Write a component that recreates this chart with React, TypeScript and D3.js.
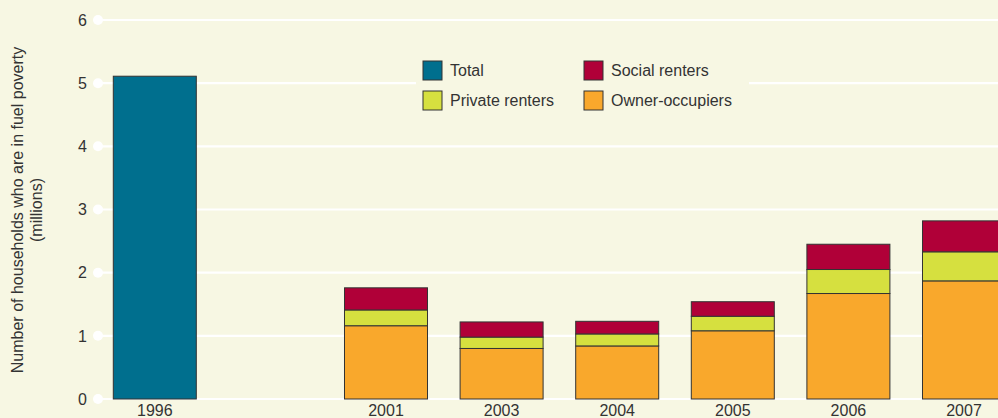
import React from "react";
import * as d3 from "d3";

const categories = ["1996", "", "2001", "2003", "2004", "2005", "2006", "2007"];
const totalValues = [5.11, null, null, null, null, null, null, null];
const ownerValues = [null, null, 1.16, 0.8, 0.84, 1.08, 1.67, 1.87];
const privateValues = [null, null, 0.25, 0.18, 0.19, 0.23, 0.38, 0.46];
const socialValues = [null, null, 0.35, 0.24, 0.2, 0.23, 0.4, 0.49];
const yTicks = [0, 1, 2, 3, 4, 5, 6];
const legendItems = [
  { label: "Total", color: "#006f8e" },
  { label: "Social renters", color: "#b00038" },
  { label: "Private renters", color: "#d6e03f" },
  { label: "Owner-occupiers", color: "#f9a82c" },
];

const W = 998;
const H = 418;
const BG = "#f7f7e3";
const TXT = "#333333";
const FONT = "Liberation Sans, Arial, Helvetica, sans-serif";
const FS = 16;

export default function App() {
  const keys = categories.map((c, i) => c || "gap" + i);
  const x = d3
    .scaleBand<string>()
    .domain(keys)
    .range([97, 97 + 8 * 115.6])
    .paddingInner(0.282)
    .paddingOuter(0.141);
  const y = d3.scaleLinear().domain([0, 6]).range([399, 20]);

  const stackColors = ["#f9a82c", "#d6e03f", "#b00038"];
  const series = [ownerValues, privateValues, socialValues];

  const bars: JSX.Element[] = [];
  keys.forEach((k, i) => {
    const x0 = x(k)!;
    const bw = x.bandwidth();
    if (totalValues[i] != null) {
      bars.push(
        <rect key={"t" + i} x={x0} y={y(totalValues[i] as number)} width={bw}
          height={y(0) - y(totalValues[i] as number)} fill="#006f8e" stroke="#333" strokeWidth={1} />
      );
    }
    let base = 0;
    series.forEach((s, j) => {
      const v = s[i];
      if (v == null) return;
      const top = base + v;
      bars.push(
        <rect key={"s" + i + "-" + j} x={x0} y={y(top)} width={bw} height={y(base) - y(top)}
          fill={stackColors[j]} stroke="#333" strokeWidth={1} />
      );
      base = top;
    });
  });

  return (
    <svg width={W} height={H} style={{ position: "absolute", left: 0, top: 0, display: "block" }}
      fontFamily={FONT}>
      <rect x={0} y={0} width={W} height={H} fill={BG} />
      {yTicks.map((t) => (
        <g key={t}>
          <line x1={98} x2={W} y1={y(t)} y2={y(t)} stroke="#ffffff" strokeWidth={2.2} />
          <circle cx={98} cy={y(t)} r={5} fill="#ffffff" />
          <text x={87} y={y(t)} dy="0.36em" textAnchor="end" fontSize={FS} fill={TXT}>{t}</text>
        </g>
      ))}
      <g transform="translate(0,210) rotate(-90)" fontSize={FS} fill={TXT} textAnchor="middle">
        <text x={0} y={23}>Number of households who are in fuel poverty</text>
        <text x={0} y={42}>(millions)</text>
      </g>
      {bars}
      {keys.map((k, i) =>
        categories[i] ? (
          <text key={k} x={x(k)! + x.bandwidth() / 2} y={416} textAnchor="middle" fontSize={FS} fill={TXT}>
            {categories[i]}
          </text>
        ) : null
      )}
      <rect x={416} y={55} width={333} height={60} fill={BG} />
      {legendItems.map((it, i) => {
        const col = i % 2;
        const row = Math.floor(i / 2);
        const lx = 423 + col * 161;
        const ly = 61 + row * 30;
        return (
          <g key={it.label}>
            <rect x={lx} y={ly} width={19} height={19} fill={it.color} stroke="#333" strokeWidth={1} />
            <text x={lx + 27} y={ly + 15} fontSize={FS} fill={TXT}>{it.label}</text>
          </g>
        );
      })}
    </svg>
  );
}
